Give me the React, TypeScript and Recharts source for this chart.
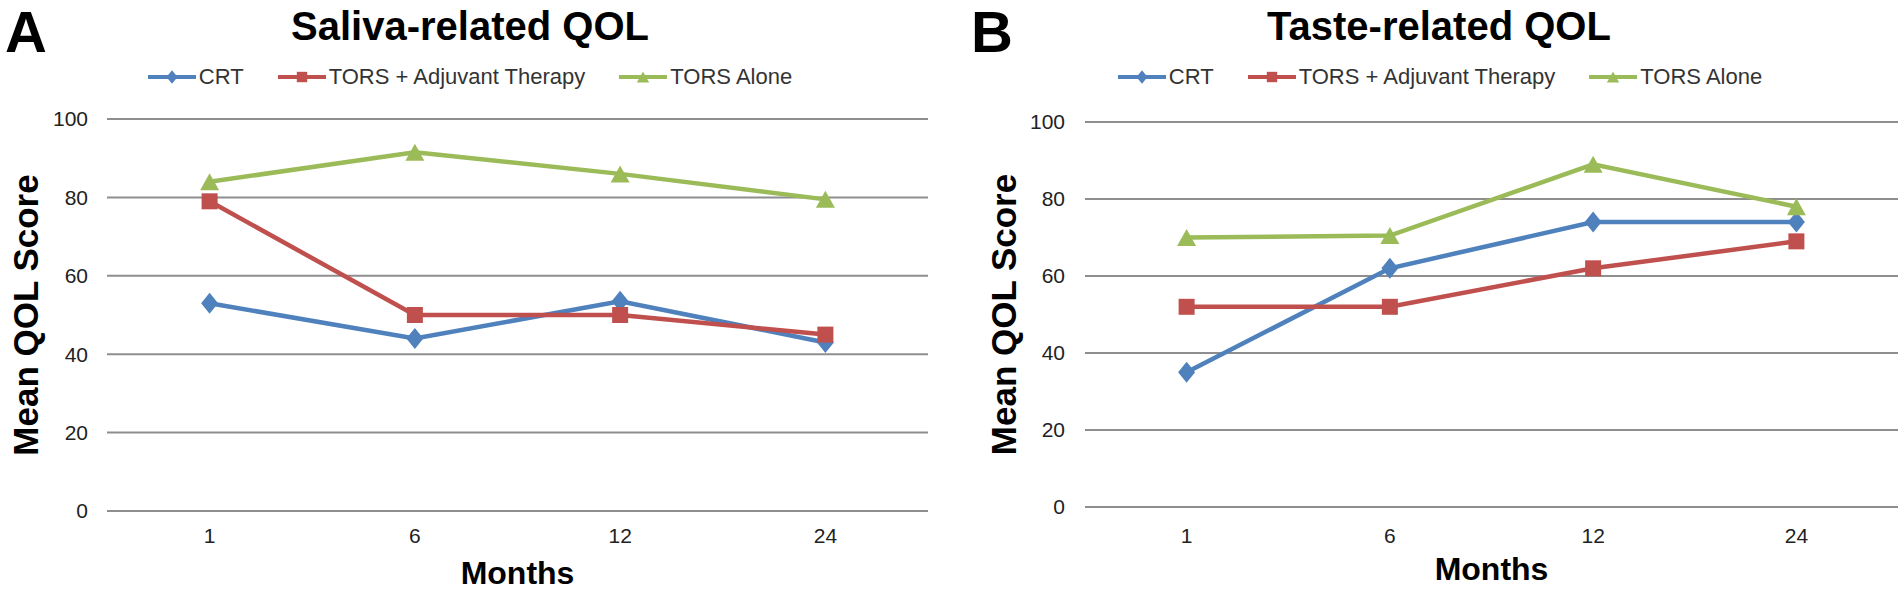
import React from 'react';
import { LineChart, Line, XAxis, YAxis, CartesianGrid, Legend } from 'recharts';

// months after treatment
const months = ['1', '6', '12', '24'];

// Saliva-related QOL (panel A)
const salivaCRT = [53, 44, 53.5, 43];
const salivaTorsAdj = [79, 50, 50, 45];
const salivaTorsAlone = [84, 91.5, 86, 79.5];

// Taste-related QOL (panel B)
const tasteCRT = [35, 62, 74, 74];
const tasteTorsAdj = [52, 52, 62, 69];
const tasteTorsAlone = [70, 70.5, 89, 78];

const seriesKeys = ['crt', 'torsAdj', 'torsAlone'];
const seriesNames = ['CRT', 'TORS + Adjuvant Therapy', 'TORS Alone'];
const seriesColors = ['#4F81BD', '#C0504D', '#9BBB59'];
const seriesShapes = ['diamond', 'square', 'triangle'];
const yTicks = [0, 20, 40, 60, 80, 100];

const FONT = '"Liberation Sans", Arial, sans-serif';

const buildData = (a: number[], b: number[], c: number[]) =>
  months.map((m, i) => ({ month: m, crt: a[i], torsAdj: b[i], torsAlone: c[i] }));

const salivaData = buildData(salivaCRT, salivaTorsAdj, salivaTorsAlone);
const tasteData = buildData(tasteCRT, tasteTorsAdj, tasteTorsAlone);

function Marker({ cx, cy, shape, color, scale = 1 }: any) {
  if (cx == null || cy == null) return null;
  if (shape === 'diamond') {
    const w = 8.5 * scale;
    const h = 10.5 * scale;
    return <path d={`M${cx},${cy - h}L${cx + w},${cy}L${cx},${cy + h}L${cx - w},${cy}Z`} fill={color} />;
  }
  if (shape === 'square') {
    const s = 8 * scale;
    return <rect x={cx - s} y={cy - s} width={2 * s} height={2 * s} fill={color} />;
  }
  const w = 9.5 * scale;
  const h = 8.5 * scale;
  return <path d={`M${cx},${cy - h}L${cx + w},${cy + h}L${cx - w},${cy + h}Z`} fill={color} />;
}

const renderLegend = (props: any) => {
  const payload = props.payload || [];
  return (
    <div style={{ display: 'flex', justifyContent: 'center', gap: 34, fontSize: 22, lineHeight: '24px', color: '#333', fontFamily: FONT }}>
      {payload.map((entry: any) => {
        const i = seriesKeys.indexOf(entry.dataKey);
        return (
          <div key={entry.dataKey} style={{ display: 'flex', alignItems: 'center' }}>
            <svg width={48} height={24}>
              <line x1={0} y1={12} x2={48} y2={12} stroke={seriesColors[i]} strokeWidth={4} />
              <Marker cx={24} cy={12} shape={seriesShapes[i]} color={seriesColors[i]} scale={0.65} />
            </svg>
            <span style={{ marginLeft: 3 }}>{entry.value}</span>
          </div>
        );
      })}
    </div>
  );
};

const yLabel = (offset: number) => (props: any) => {
  const vb = props.viewBox;
  const cx = vb.x + offset;
  const cy = vb.y + vb.height / 2;
  return (
    <text x={cx} y={cy} transform={`rotate(-90 ${cx} ${cy})`} textAnchor="middle" dy="0.36em"
      fontSize={35} fontWeight="bold" fill="#000" fontFamily={FONT}>
      Mean QOL Score
    </text>
  );
};

const xLabel = (props: any) => {
  const vb = props.viewBox;
  return (
    <text x={vb.x + vb.width / 2} y={vb.y + 73} textAnchor="middle"
      fontSize={32} fontWeight="bold" fill="#000" fontFamily={FONT}>
      Months
    </text>
  );
};

function Panel({ data, width, top, right, yWidth, xHeight, pad, yTickMargin, xTickMargin, labelX, legendLeft, legendWidth }: any) {
  return (
    <LineChart width={width} height={593} data={data} margin={{ top, right, bottom: 0, left: 0 }}>
      <CartesianGrid horizontal vertical={false} stroke="#8e8e8e" strokeWidth={2} />
      <XAxis dataKey="month" axisLine={false} tickLine={false} height={xHeight} padding={{ left: pad, right: pad }}
        tickSize={6} tickMargin={xTickMargin} interval={0}
        tick={{ fill: '#222', fontSize: 21, fontFamily: FONT }} label={{ content: xLabel }} />
      <YAxis domain={[0, 100]} ticks={yTicks} axisLine={false} tickLine={false} width={yWidth}
        tickSize={6} tickMargin={yTickMargin} interval={0}
        tick={{ fill: '#222', fontSize: 21, fontFamily: FONT }} label={{ content: yLabel(labelX) }} />
      <Legend verticalAlign="middle" content={renderLegend}
        wrapperStyle={{ top: 65, left: legendLeft, width: legendWidth }} />
      {seriesKeys.map((k, i) => (
        <Line key={k} dataKey={k} name={seriesNames[i]} stroke={seriesColors[i]} strokeWidth={4.5}
          isAnimationActive={false}
          dot={(p: any) => <Marker key={`${k}-${p.index}`} cx={p.cx} cy={p.cy} shape={seriesShapes[i]} color={seriesColors[i]} />}
          activeDot={false} />
      ))}
    </LineChart>
  );
}

const letterStyle: React.CSSProperties = {
  position: 'absolute', top: 3, fontSize: 58, lineHeight: '58px', fontWeight: 'bold', fontFamily: FONT, color: '#000',
};
const titleStyle: React.CSSProperties = {
  position: 'absolute', top: 4, width: 600, textAlign: 'center', fontSize: 40, lineHeight: '44px',
  fontWeight: 'bold', fontFamily: FONT, color: '#000',
};

export default function App() {
  return (
    <div style={{ position: 'absolute', left: 0, top: 0, width: 1902, height: 593, background: '#fff', overflow: 'hidden' }}>
      <div style={{ position: 'absolute', left: 0, top: 0 }}>
        <Panel data={salivaData} width={945} top={119} right={17} yWidth={107} xHeight={82} pad={102.6}
          yTickMargin={13} xTickMargin={11} labelX={25} legendLeft={0} legendWidth={940} />
      </div>
      <div style={{ position: 'absolute', left: 951, top: 0 }}>
        <Panel data={tasteData} width={951} top={122} right={4} yWidth={134} xHeight={86} pad={101.6}
          yTickMargin={14} xTickMargin={15} labelX={52} legendLeft={29} legendWidth={920} />
      </div>
      <div style={{ ...letterStyle, left: 5 }}>A</div>
      <div style={{ ...letterStyle, left: 971 }}>B</div>
      <div style={{ ...titleStyle, left: 470 - 300 }}>Saliva-related QOL</div>
      <div style={{ ...titleStyle, left: 1439 - 300 }}>Taste-related QOL</div>
    </div>
  );
}
